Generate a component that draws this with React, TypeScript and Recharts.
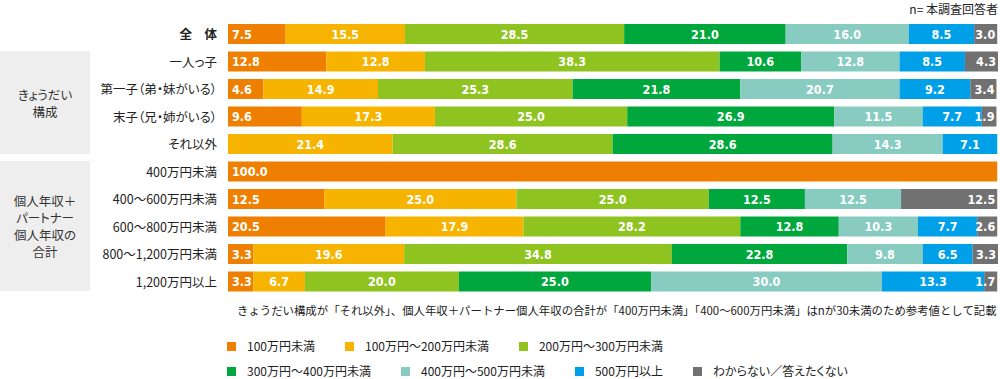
import React from "react";
import { BarChart, Bar, XAxis, YAxis, LabelList } from "recharts";

const categories = [
  "全 体",
  "一人っ子",
  "第一子（弟・妹がいる）",
  "末子（兄・姉がいる）",
  "それ以外",
  "400万円未満",
  "400～600万円未満",
  "600～800万円未満",
  "800～1,200万円未満",
  "1,200万円以上",
];

const under100 = [7.5, 12.8, 4.6, 9.6, 0, 100.0, 12.5, 20.5, 3.3, 3.3];
const from100to200 = [15.5, 12.8, 14.9, 17.3, 21.4, 0, 25.0, 17.9, 19.6, 6.7];
const from200to300 = [28.5, 38.3, 25.3, 25.0, 28.6, 0, 25.0, 28.2, 34.8, 20.0];
const from300to400 = [21.0, 10.6, 21.8, 26.9, 28.6, 0, 12.5, 12.8, 22.8, 25.0];
const from400to500 = [16.0, 12.8, 20.7, 11.5, 14.3, 0, 12.5, 10.3, 9.8, 30.0];
const over500 = [8.5, 8.5, 9.2, 7.7, 7.1, 0, 0, 7.7, 6.5, 13.3];
const unknown = [3.0, 4.3, 3.4, 1.9, 0, 0, 12.5, 2.6, 3.3, 1.7];

const seriesNames = [
  "100万円未満",
  "100万円～200万円未満",
  "200万円～300万円未満",
  "300万円～400万円未満",
  "400万円～500万円未満",
  "500万円以上",
  "わからない／答えたくない",
];
const seriesColors = ["#EE7F00", "#F6B400", "#8FC31F", "#00A73C", "#88CBC0", "#00A0E9", "#727171"];
const seriesValues = [under100, from100to200, from200to300, from300to400, from400to500, over500, unknown];

const groups = [
  { lines: ["きょうだい", "構成"], from: 1, to: 4 },
  { lines: ["個人年収＋", "パートナー", "個人年収の", "合計"], from: 5, to: 9 },
];

const note =
  "きょうだい構成が「それ以外」、個人年収＋パートナー個人年収の合計が「400万円未満」「400～600万円未満」はnが30未満のため参考値として記載";

const data = categories.map((name, i) => {
  const row: Record<string, string | number> = { name };
  seriesValues.forEach((vals, s) => {
    row["s" + s] = vals[i];
  });
  return row;
});

const W = 1000;
const H = 379;
const TOP = 20;
const BOTTOM = 84;
const LEFT = 228;
const RIGHT = 2;
const BAR = 20;
const band = (H - TOP - BOTTOM) / categories.length;

const jpFont = '"Noto Sans CJK JP", "Noto Sans", sans-serif';
const numFont = '"Liberation Sans Narrow", "DejaVu Sans Condensed", "Roboto", sans-serif';
const palt = { fontFeatureSettings: '"palt"' } as React.CSSProperties;

const makeLabel = (align: "left" | "center" | "right") => (props: any) => {
  const { x, y, width, height, value } = props;
  if (!value) return null;
  let tx = x + width / 2;
  let anchor: "start" | "middle" | "end" = "middle";
  if (align === "left") {
    tx = x + 4;
    anchor = "start";
  } else if (align === "right") {
    tx = x + width - 2;
    anchor = "end";
  }
  return (
    <text
      x={tx}
      y={y + height / 2}
      textAnchor={anchor}
      dominantBaseline="central"
      fill="#FFFFFF"
      fontFamily={numFont}
      fontWeight="bold"
      fontSize={12.5}
    >
      {Number(value).toFixed(1)}
    </text>
  );
};

const CategoryTick = (props: any) => {
  const { x, y, payload } = props;
  const total = payload.value === "全 体";
  return (
    <text
      x={x}
      y={y}
      textAnchor="end"
      dominantBaseline="central"
      fill="#222222"
      fontFamily={jpFont}
      fontSize={12.5}
      fontWeight={total ? "bold" : "normal"}
      style={palt}
    >
      {total ? "全\u3000体" : payload.value}
    </text>
  );
};

export default function App() {
  return (
    <div
      style={{
        position: "absolute",
        left: 0,
        top: 0,
        width: W,
        height: H,
        background: "#FFFFFF",
        fontFamily: jpFont,
        overflow: "hidden",
        ...palt,
      }}
    >
      {groups.map((g, i) => {
        const top = TOP + g.from * band + (band - BAR) / 2;
        const bottom = TOP + g.to * band + (band + BAR) / 2;
        return (
          <div
            key={i}
            style={{
              position: "absolute",
              left: 0,
              top,
              width: 90,
              height: bottom - top,
              background: "#EEEEEE",
              display: "flex",
              flexDirection: "column",
              justifyContent: "center",
              alignItems: "center",
              fontSize: 12.5,
              lineHeight: "17px",
              color: "#333333",
            }}
          >
            {g.lines.map((l) => (
              <div key={l}>{l}</div>
            ))}
          </div>
        );
      })}

      <div style={{ position: "absolute", left: 0, top: 0 }}>
        <BarChart
          width={W}
          height={H}
          data={data}
          layout="vertical"
          margin={{ top: TOP, right: RIGHT, bottom: BOTTOM, left: 0 }}
          barSize={BAR}
        >
          <XAxis type="number" domain={[0, 100]} hide />
          <YAxis
            type="category"
            dataKey="name"
            width={LEFT}
            axisLine={false}
            tickLine={false}
            tickSize={0}
            tickMargin={11}
            interval={0}
            tick={<CategoryTick />}
          />
          {seriesNames.map((name, s) => (
            <Bar
              key={name}
              dataKey={"s" + s}
              name={name}
              stackId="a"
              fill={seriesColors[s]}
              isAnimationActive={false}
            >
              <LabelList
                dataKey={"s" + s}
                content={makeLabel(s === 0 ? "left" : s === seriesNames.length - 1 ? "right" : "center")}
              />
            </Bar>
          ))}
        </BarChart>
      </div>

      <div
        style={{
          position: "absolute",
          right: 2,
          top: 0,
          fontSize: 12,
          lineHeight: "17px",
          color: "#222222",
        }}
      >
        n= 本調査回答者
      </div>

      <div
        style={{
          position: "absolute",
          left: 237,
          top: 301,
          fontSize: 11.4,
          lineHeight: "18px",
          color: "#222222",
          whiteSpace: "nowrap",
          fontFeatureSettings: "normal",
        }}
      >
        {note}
      </div>

      {[
        [0, 1, 2],
        [3, 4, 5, 6],
      ].map((row, r) => (
        <div
          key={r}
          style={{
            position: "absolute",
            left: 227,
            top: 337 + r * 25,
            display: "flex",
            alignItems: "center",
            fontSize: 12,
            lineHeight: "18px",
            color: "#222222",
            whiteSpace: "nowrap",
          }}
        >
          {row.map((s) => (
            <div key={s} style={{ display: "flex", alignItems: "center", marginRight: 30 }}>
              <span
                style={{
                  display: "inline-block",
                  width: 9,
                  height: 9,
                  background: seriesColors[s],
                  marginRight: 11,
                }}
              />
              <span>{seriesNames[s]}</span>
            </div>
          ))}
        </div>
      ))}
    </div>
  );
}
